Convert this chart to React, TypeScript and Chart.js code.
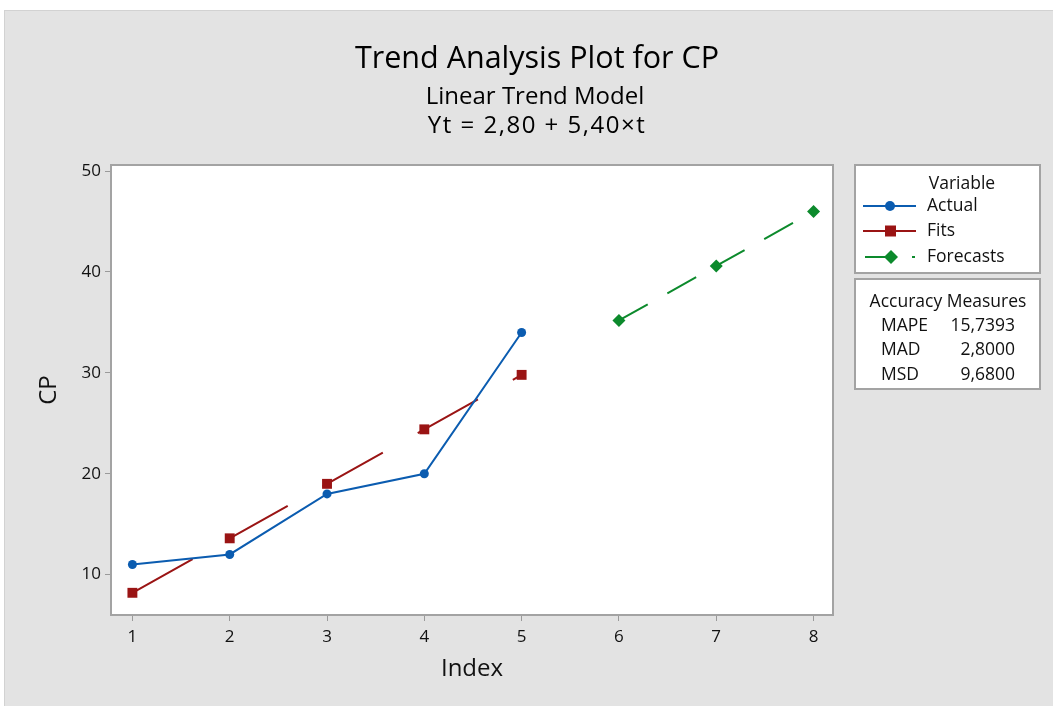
import React, { useEffect, useRef } from "react";
import { Chart, registerables } from "chart.js";

Chart.register(...registerables);

// ---- data ----
const actualIndex = [1, 2, 3, 4, 5];
const actualValues = [11, 12, 18, 20, 34];
const fitsValues = [8.2, 13.6, 19.0, 24.4, 29.8];
const forecastIndex = [6, 7, 8];
const forecastValues = [35.2, 40.6, 46.0];
const xTickValues = [1, 2, 3, 4, 5, 6, 7, 8];
const yTickValues = [10, 20, 30, 40, 50];
const titleText = "Trend Analysis Plot for CP";
const subtitleLines = ["Linear Trend Model", "Yt = 2,80 + 5,40×t"];
const legendTitle = "Variable";
const seriesNames = ["Actual", "Fits", "Forecasts"];
const accuracyTitle = "Accuracy Measures";
const accuracyLabels = ["MAPE", "MAD", "MSD"];
const accuracyValues = ["15,7393", "2,8000", "9,6800"];

const FONT = "'Open Sans', 'Noto Sans', sans-serif";
const BLUE = "#0b5cb0";
const RED = "#9a1414";
const GREEN = "#0c8a2c";
const TEXT = "#111111";
const BOXGRAY = "#a3a3a3";

const W = 1053;
const H = 706;

const decorPlugin = {
  id: "decor",
  beforeDraw(chart: any) {
    const { ctx, chartArea } = chart;
    ctx.save();
    ctx.fillStyle = "#ffffff";
    ctx.fillRect(0, 0, W, H);
    ctx.fillStyle = "#e3e3e3";
    ctx.fillRect(4, 10, W - 4, H - 10);
    ctx.fillStyle = "#d2d2d2";
    ctx.fillRect(4, 10, W - 4, 1);
    ctx.fillRect(4, 10, 1, H - 10);
    ctx.fillStyle = "#ffffff";
    ctx.fillRect(chartArea.left, chartArea.top, chartArea.right - chartArea.left, chartArea.bottom - chartArea.top);
    ctx.restore();
  },
  beforeDatasetsDraw(chart: any) {
    const { ctx, chartArea } = chart;
    ctx.save();
    ctx.strokeStyle = BOXGRAY;
    ctx.lineWidth = 2;
    ctx.strokeRect(chartArea.left, chartArea.top, chartArea.right - chartArea.left, chartArea.bottom - chartArea.top);
    ctx.restore();
  },
  afterDraw(chart: any) {
    const { ctx } = chart;
    ctx.save();
    ctx.fillStyle = "#000";
    ctx.textAlign = "center";
    ctx.textBaseline = "alphabetic";
    // titles
    ctx.font = `30.5px ${FONT}`;
    ctx.fillText(titleText, 537, 68);
    ctx.font = `24px ${FONT}`;
    ctx.fillText(subtitleLines[0], 535, 104);
    (ctx as any).letterSpacing = "1.5px";
    ctx.fillText(subtitleLines[1], 537, 133);
    (ctx as any).letterSpacing = "0px";

    // legend boxes
    const bx = 855, bw = 185;
    ctx.fillStyle = "#ffffff";
    ctx.fillRect(bx, 165, bw, 108);
    ctx.fillRect(bx, 279, bw, 110);
    ctx.strokeStyle = BOXGRAY;
    ctx.lineWidth = 2;
    ctx.strokeRect(bx, 165, bw, 108);
    ctx.strokeRect(bx, 279, bw, 110);

    ctx.fillStyle = TEXT;
    ctx.font = `17.5px ${FONT}`;
    ctx.textAlign = "center";
    ctx.fillText(legendTitle, 962, 189);
    ctx.textAlign = "left";
    const ys = [212, 237, 263];
    const colors = [BLUE, RED, GREEN];
    seriesNames.forEach((n, i) => {
      ctx.fillStyle = TEXT;
      ctx.fillText(n, 927, ys[i] - 1);
      const cy = ys[i] - 6;
      ctx.strokeStyle = colors[i];
      ctx.fillStyle = colors[i];
      ctx.lineWidth = 2;
      ctx.beginPath();
      if (i === 2) {
        ctx.moveTo(865, cy); ctx.lineTo(897, cy);
        ctx.moveTo(912, cy); ctx.lineTo(915, cy);
      } else {
        ctx.moveTo(863, cy); ctx.lineTo(916, cy);
      }
      ctx.stroke();
      ctx.beginPath();
      if (i === 0) {
        ctx.arc(890, cy, 5, 0, Math.PI * 2);
      } else if (i === 1) {
        ctx.rect(885, cy - 5.5, 11, 11);
      } else {
        ctx.moveTo(891, cy - 7); ctx.lineTo(898, cy); ctx.lineTo(891, cy + 7); ctx.lineTo(884, cy); ctx.closePath();
      }
      ctx.fill();
    });

    // accuracy box
    ctx.fillStyle = TEXT;
    ctx.font = `17.5px ${FONT}`;
    ctx.textAlign = "center";
    ctx.fillText(accuracyTitle, 948, 307);
    const ays = [331, 355, 380];
    accuracyLabels.forEach((l, i) => {
      ctx.textAlign = "left";
      ctx.fillText(l, 881, ays[i]);
      ctx.textAlign = "right";
      ctx.fillText(accuracyValues[i], 1015, ays[i]);
    });
    ctx.restore();
  },
};

export default function App() {
  const ref = useRef<HTMLCanvasElement | null>(null);
  useEffect(() => {
    if (!ref.current) return;
    const chart = new Chart(ref.current, {
      type: "line",
      data: {
        datasets: [
          {
            label: seriesNames[0],
            data: actualIndex.map((x, i) => ({ x, y: actualValues[i] })),
            borderColor: BLUE,
            backgroundColor: BLUE,
            borderWidth: 2,
            pointStyle: "circle",
            pointRadius: 4.5,
            pointBorderWidth: 0,
          },
          {
            label: seriesNames[1],
            data: actualIndex.map((x, i) => ({ x, y: fitsValues[i] })),
            borderColor: RED,
            backgroundColor: RED,
            borderWidth: 2,
            borderDash: [69, 40],
            pointStyle: "rect",
            pointRadius: 7,
            pointBorderWidth: 0,
          },
          {
            label: seriesNames[2],
            data: forecastIndex.map((x, i) => ({ x, y: forecastValues[i] })),
            borderColor: GREEN,
            backgroundColor: GREEN,
            borderWidth: 2,
            borderDash: [33, 22.5],
            pointStyle: "rectRot",
            pointRadius: 6.5,
            pointBorderWidth: 0,
          },
        ],
      },
      options: {
        responsive: false,
        animation: false,
        devicePixelRatio: 1,
        layout: { padding: { top: 165, right: 220, left: 0, bottom: 0 } },
        plugins: {
          legend: { display: false },
          tooltip: { enabled: false },
        },
        scales: {
          x: {
            type: "linear",
            min: 0.78,
            max: 8.2,
            afterBuildTicks: (s: any) => {
              s.ticks = xTickValues.map((v) => ({ value: v }));
            },
            afterFit: (s: any) => {
              s.height = H - 615;
            },
            grid: { drawOnChartArea: false, drawTicks: true, tickLength: 6, color: "#9a9a9a", lineWidth: 1 },
            border: { display: false },
            ticks: { color: TEXT, font: { family: FONT, size: 17 }, padding: 6, maxRotation: 0, callback: (v: any) => String(v) },
            title: { display: true, text: "Index", color: TEXT, font: { family: FONT, size: 24 }, padding: { top: 0, bottom: 22 } },
          },
          y: {
            type: "linear",
            min: 6.0,
            max: 50.6,
            afterBuildTicks: (s: any) => {
              s.ticks = yTickValues.map((v) => ({ value: v }));
            },
            afterFit: (s: any) => {
              s.width = 111;
            },
            grid: { drawOnChartArea: false, drawTicks: true, tickLength: 6, color: "#9a9a9a", lineWidth: 1 },
            border: { display: false },
            ticks: { color: TEXT, font: { family: FONT, size: 17 }, padding: 4, callback: (v: any) => String(v) },
            title: { display: true, text: "CP", color: TEXT, font: { family: FONT, size: 24 }, padding: { top: 35, bottom: 0 } },
          },
        },
      },
      plugins: [decorPlugin],
    } as any);
    return () => chart.destroy();
  }, []);
  return (
    <div style={{ position: "fixed", left: 0, top: 0, width: W, height: H, background: "#fff" }}>
      <canvas ref={ref} width={W} height={H} style={{ display: "block", width: W, height: H }} />
    </div>
  );
}
